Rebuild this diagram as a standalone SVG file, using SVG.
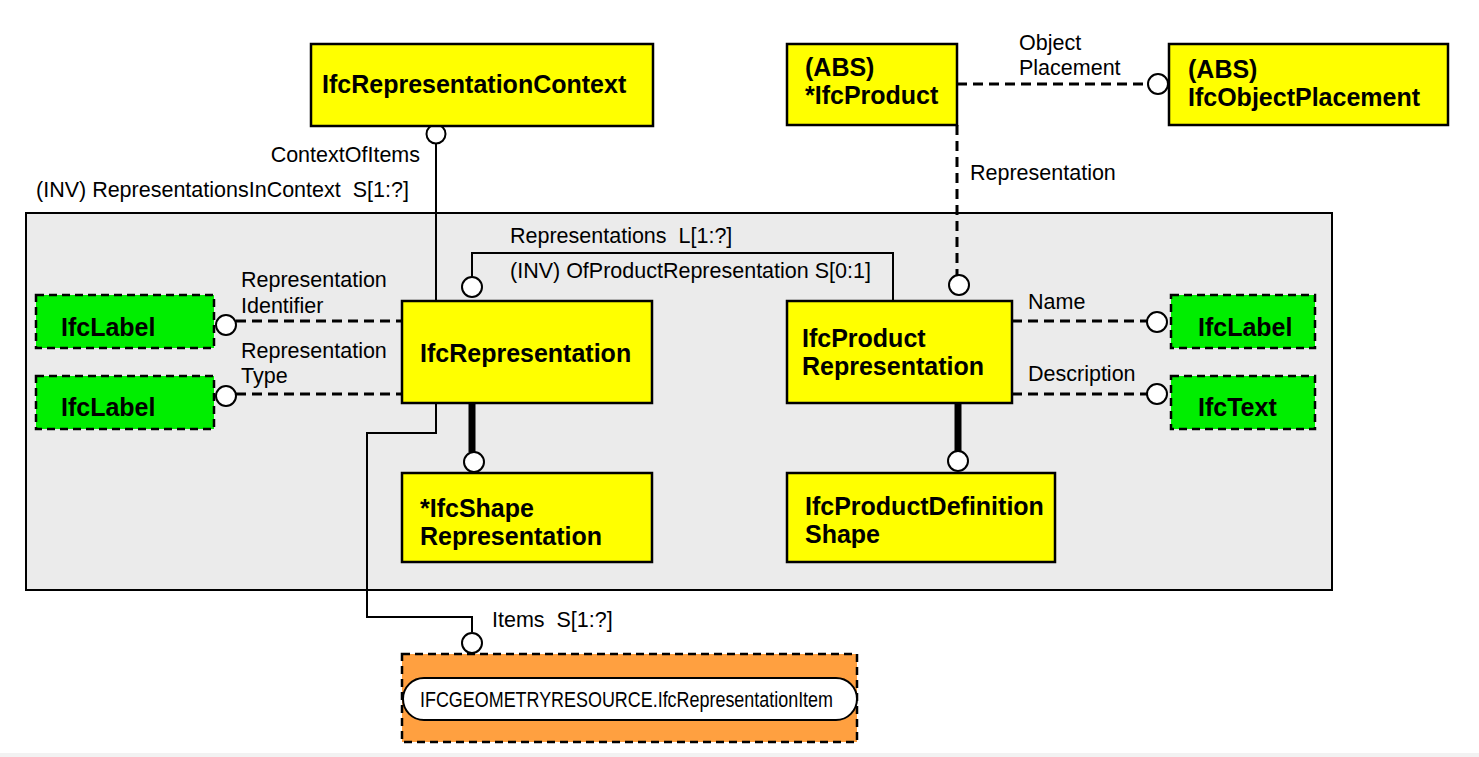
<svg xmlns="http://www.w3.org/2000/svg" width="1479" height="757" viewBox="0 0 1479 757">
<style>
.ent{fill:#ffff00;stroke:#000;stroke-width:2.5}
.def{fill:#00ee00;stroke:#000;stroke-width:2.5;stroke-dasharray:8 5}
.b{font-family:"Liberation Sans",Arial,sans-serif;font-weight:bold;font-size:25px;fill:#000}
.t{font-family:"Liberation Sans",Arial,sans-serif;font-size:21.5px;fill:#000;white-space:pre}
.sol{fill:none;stroke:#000;stroke-width:2}
.dash{fill:none;stroke:#000;stroke-width:3;stroke-dasharray:10 6}
.thick{fill:none;stroke:#000;stroke-width:7}
.c{fill:#fff;stroke:#000;stroke-width:2}
</style>
<rect x="0" y="0" width="1479" height="757" fill="#fff"/>
<rect x="0" y="753" width="1479" height="4" fill="#f2f2f2"/>
<g id="container">
<rect x="26" y="213" width="1306" height="377" fill="#ebebeb" stroke="#000" stroke-width="2"/>
</g>
<g id="connectors">
<polyline class="sol" points="436,143 436,301"/>
<polyline class="sol" points="436,403 436,433 367,433 367,617 472,617 472,632"/>
<polyline class="sol" points="472,277 472,253 893,253 893,301"/>
<line class="dash" x1="957" y1="84" x2="1148" y2="84"/>
<line class="dash" x1="957" y1="125" x2="957" y2="275"/>
<line class="dash" x1="236" y1="321" x2="402" y2="321"/>
<line class="dash" x1="236" y1="394" x2="402" y2="394"/>
<line class="dash" x1="1012" y1="321" x2="1147" y2="321"/>
<line class="dash" x1="1012" y1="394" x2="1147" y2="394"/>
<line class="thick" x1="472" y1="403" x2="472" y2="452"/>
<line class="thick" x1="958" y1="403" x2="958" y2="452"/>
<circle class="c" cx="436" cy="134" r="9.5"/>
<circle class="c" cx="1158" cy="84" r="10"/>
<circle class="c" cx="959" cy="285" r="10"/>
<circle class="c" cx="472" cy="287" r="10"/>
<circle class="c" cx="226" cy="325" r="10"/>
<circle class="c" cx="226" cy="396" r="10"/>
<circle class="c" cx="1157" cy="322" r="10"/>
<circle class="c" cx="1157" cy="394" r="10"/>
<circle class="c" cx="474" cy="462" r="10"/>
<circle class="c" cx="958" cy="461" r="10"/>
<circle class="c" cx="472" cy="643" r="10"/>
<text class="t" x="420" y="162" text-anchor="end">ContextOfItems</text>
<text class="t" x="36" y="197" xml:space="preserve">(INV) RepresentationsInContext  S[1:?]</text>
<text class="t" x="1019" y="50">Object</text>
<text class="t" x="1019" y="75">Placement</text>
<text class="t" x="970" y="180">Representation</text>
<text class="t" x="510" y="243" xml:space="preserve">Representations  L[1:?]</text>
<text class="t" x="510" y="278">(INV) OfProductRepresentation S[0:1]</text>
<text class="t" x="241" y="287">Representation</text>
<text class="t" x="241" y="313">Identifier</text>
<text class="t" x="241" y="358">Representation</text>
<text class="t" x="241" y="383">Type</text>
<text class="t" x="1028" y="309">Name</text>
<text class="t" x="1028" y="381">Description</text>
<text class="t" x="492" y="627" xml:space="preserve">Items  S[1:?]</text>
</g>
<g id="IfcRepresentationContext">
<rect class="ent" x="311" y="44" width="342" height="82"/>
<text class="b" x="322" y="93">IfcRepresentationContext</text>
</g>
<g id="IfcProduct">
<rect class="ent" x="787" y="44" width="170" height="81"/>
<text class="b" x="805" y="76">(ABS)</text>
<text class="b" x="805" y="104">*IfcProduct</text>
</g>
<g id="IfcObjectPlacement">
<rect class="ent" x="1169" y="44" width="279" height="81"/>
<text class="b" x="1188" y="78">(ABS)</text>
<text class="b" x="1188" y="106">IfcObjectPlacement</text>
</g>
<g id="IfcRepresentation">
<rect class="ent" x="402" y="301" width="250" height="102"/>
<text class="b" x="420" y="362">IfcRepresentation</text>
</g>
<g id="IfcProductRepresentation">
<rect class="ent" x="787" y="301" width="225" height="102"/>
<text class="b" x="802" y="347">IfcProduct</text>
<text class="b" x="802" y="375">Representation</text>
</g>
<g id="IfcLabel1">
<rect class="def" x="36" y="295" width="178" height="53"/>
<text class="b" x="61" y="336">IfcLabel</text>
</g>
<g id="IfcLabel2">
<rect class="def" x="36" y="376" width="178" height="53"/>
<text class="b" x="61" y="416">IfcLabel</text>
</g>
<g id="IfcLabel3">
<rect class="def" x="1171" y="295" width="144" height="53"/>
<text class="b" x="1198" y="336">IfcLabel</text>
</g>
<g id="IfcText">
<rect class="def" x="1171" y="376" width="144" height="53"/>
<text class="b" x="1198" y="416">IfcText</text>
</g>
<g id="IfcShapeRepresentation">
<rect class="ent" x="402" y="473" width="250" height="89"/>
<text class="b" x="420" y="517">*IfcShape</text>
<text class="b" x="420" y="545">Representation</text>
</g>
<g id="IfcProductDefinitionShape">
<rect class="ent" x="787" y="473" width="268" height="89"/>
<text class="b" x="805" y="515">IfcProductDefinition</text>
<text class="b" x="805" y="543">Shape</text>
</g>
<g id="IfcRepresentationItem">
<rect x="402" y="654" width="455" height="88" fill="#ffa040" stroke="#000" stroke-width="2.5" stroke-dasharray="8 5"/>
<rect x="403" y="678" width="454" height="42" rx="21" fill="#fff" stroke="#000" stroke-width="2"/>
<text class="t" x="420" y="707" style="font-size:22.5px" textLength="413" lengthAdjust="spacingAndGlyphs">IFCGEOMETRYRESOURCE.IfcRepresentationItem</text>
</g>
</svg>
